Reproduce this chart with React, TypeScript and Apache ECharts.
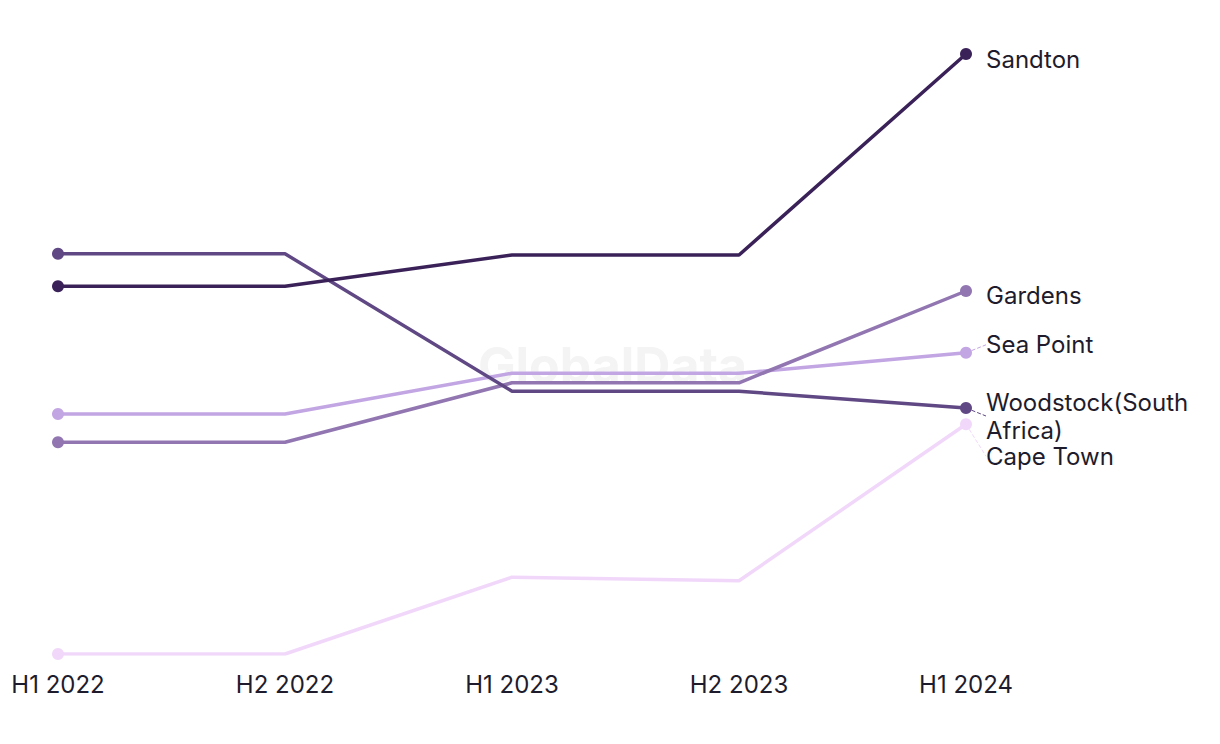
import React, { useEffect, useRef } from "react";
import * as echarts from "echarts";

const categories = ["H1 2022", "H2 2022", "H1 2023", "H2 2023", "H1 2024"];
const seriesNames = ["Sandton", "Woodstock(South Africa)", "Gardens", "Sea Point", "Cape Town"];
const sandton = [61.3, 61.3, 66.5, 66.5, 100];
const woodstock = [66.7, 66.7, 43.8, 43.8, 41.0];
const gardens = [35.3, 35.3, 45.2, 45.2, 60.5];
const seaPoint = [40.0, 40.0, 46.8, 46.8, 50.2];
const capeTown = [0, 0, 12.8, 12.2, 38.3];
const seriesValues = [sandton, woodstock, gardens, seaPoint, capeTown];
const colors = ["#3a2259", "#5f4884", "#9176b1", "#c2a5e3", "#f1d8fa"];

// vertical nudges of the end labels to avoid overlap (layout only)
const labelShift = [5, 8, 4, -8, 32];
const labelLeader = [false, true, false, true, true];

const FONT = "Inter";

// wrap words so that no line exceeds maxChars characters
function wrap(text: string, maxChars: number): string {
  const words = text.split(" ");
  const lines: string[] = [];
  let cur = "";
  for (const w of words) {
    if (cur && (cur + " " + w).length > maxChars) {
      lines.push(cur);
      cur = w;
    } else {
      cur = cur ? cur + " " + w : w;
    }
  }
  if (cur) lines.push(cur);
  return lines.join("\n");
}

export default function App() {
  const ref = useRef<HTMLDivElement>(null);
  useEffect(() => {
    if (!ref.current) return;
    const chart = echarts.init(ref.current, undefined, { renderer: "svg" });
    const series = seriesNames.map((name, i) => ({
      name,
      type: "line",
      z: 10 - i,
      symbol: "circle",
      symbolSize: 12,
      showSymbol: true,
      lineStyle: { width: 3.5, color: colors[i] },
      itemStyle: { color: colors[i] },
      emphasis: { disabled: true },
      data: seriesValues[i].map((v, j) => {
        const isLast = j === seriesValues[i].length - 1;
        return {
          value: v,
          symbolSize: j === 0 || isLast ? 12 : 0,
          label: isLast
            ? {
                show: true,
                position: "right",
                distance: 14,
                formatter: wrap(name, 16),
                color: "#1e1c2c",
                fontFamily: FONT,
                fontSize: 24,
                lineHeight: 28,
              }
            : { show: false },
        };
      }),
      labelLine: {
        show: labelLeader[i],
        lineStyle: { type: "dashed", width: 1, color: colors[i] },
      },
      labelLayout: { dy: labelShift[i] },
    }));
    chart.setOption({
      animation: false,
      grid: { left: 58, right: 254, top: 54, bottom: 90 },
      xAxis: {
        type: "category",
        data: categories,
        boundaryGap: false,
        axisLine: { show: false },
        axisTick: { show: false },
        splitLine: { show: false },
        axisLabel: {
          color: "#1e1c2c",
          fontFamily: FONT,
          fontSize: 24,
          margin: 18,
        },
      },
      yAxis: {
        type: "value",
        min: 0,
        max: 100,
        show: false,
        splitLine: { show: false },
      },
      graphic: [
        {
          type: "text",
          left: 478,
          top: 340,
          z: 0,
          style: {
            text: "GlobalData",
            fontFamily: FONT,
            fontSize: 50,
            fontWeight: "bold",
            fill: "#f4f4f4",
          },
        },
      ],
      series,
    });
    return () => chart.dispose();
  }, []);
  return (
    <div
      ref={ref}
      style={{ position: "fixed", left: 0, top: 0, width: 1220, height: 744, background: "#fff" }}
    />
  );
}
